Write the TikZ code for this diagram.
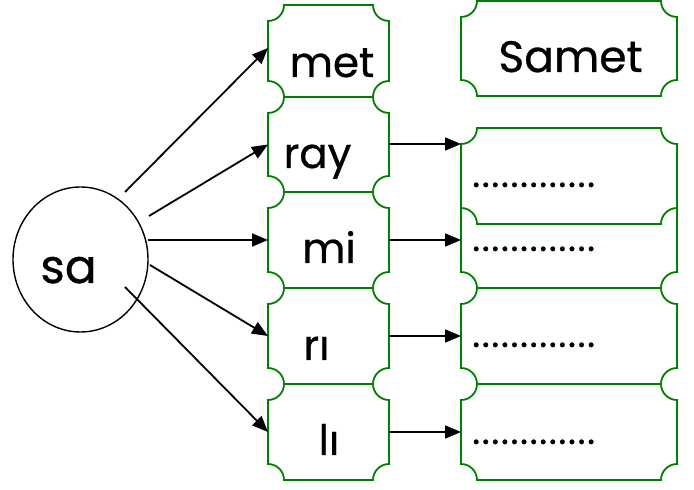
\documentclass[tikz,border=0pt]{standalone}
\usepackage{fontspec}
\setmainfont{Poppins}[FakeBold=0.6]
\usetikzlibrary{arrows.meta,shapes.geometric,backgrounds}
\definecolor{tgreen}{RGB}{0,128,0}
\newlength\tkr
\setlength\tkr{16pt}
\newcommand\ticketframe[1]{%
  \draw[frame] ([xshift=\tkr]#1.north west) -- ([xshift=-\tkr]#1.north east)
    arc[start angle=180,end angle=270,radius=\tkr]
    -- ([yshift=\tkr]#1.south east)
    arc[start angle=90,end angle=180,radius=\tkr]
    -- ([xshift=\tkr]#1.south west)
    arc[start angle=0,end angle=90,radius=\tkr]
    -- ([yshift=-\tkr]#1.north west)
    arc[start angle=270,end angle=360,radius=\tkr] -- cycle;}
\begin{document}
\begin{tikzpicture}[x=1pt,y=1pt,
  boxnode/.style={rectangle,draw=none,inner sep=0pt,outer sep=0pt},
  leftbox/.style={boxnode,minimum width=121pt},
  rightbox/.style={boxnode,minimum width=216pt},
  frame/.style={draw=tgreen,line width=1.8pt,fill=white,line join=miter},
  word/.style={anchor=base,inner sep=0pt,font=\fontsize{42}{50}\selectfont},
  bigword/.style={anchor=base,inner sep=0pt,font=\fontsize{44}{52}\selectfont},
  dotline/.style={anchor=base west,inner sep=0pt,font=\fontsize{38}{40}\selectfont\addfontfeature{LetterSpace=4.2}},
  arr/.style={line width=1.8pt,-{Triangle[length=16pt,width=13pt]}}]
\useasboundingbox (0,0) rectangle (694,490);

% left column boxes
\node[leftbox,minimum height=92pt] (met) at (328.5,439) {};
\node[leftbox,minimum height=95pt] (ray) at (328.5,345.5) {};
\node[leftbox,minimum height=96pt] (mi) at (328.5,250) {};
\node[leftbox,minimum height=96pt] (ri) at (328.5,154) {};
\node[leftbox,minimum height=96pt] (li) at (328.5,58) {};

% right column boxes
\node[rightbox,minimum height=95pt] (samet) at (569,441.5) {};
\node[rightbox,minimum height=96pt] (r1) at (569,314) {};
\node[rightbox,minimum height=96pt] (r2) at (569,250) {};
\node[rightbox,minimum height=96pt] (r3) at (569,154) {};
\node[rightbox,minimum height=96pt] (r4) at (569,58) {};

\begin{pgfonlayer}{background}
  \ticketframe{met}
  \ticketframe{ray}
  \ticketframe{mi}
  \ticketframe{ri}
  \ticketframe{li}
  \ticketframe{samet}
  \ticketframe{r2}
  \ticketframe{r1}
  \ticketframe{r3}
  \ticketframe{r4}
\end{pgfonlayer}

% circle
\node[ellipse,draw,line width=1.4pt,minimum width=135pt,minimum height=145pt,inner sep=0pt] (sa) at (80.5,230.5) {};
\node[word,font=\fontsize{47}{52}\selectfont] (tsa) at (68.5,207) {sa};

% words
\node[word] (tmet) at (332,413) {met};
\node[word] (tray) at (317.5,322) {ray};
\node[word] (tmi) at (329,227) {mi};
\node[word] (tri) at (316.5,130) {rı};
\node[word] (tli) at (329,35) {lı};
\node[bigword] (tsamet) at (570.5,418) {Samet};

% dotted answer lines
\node[dotline] (d1) at (472,303) {.............};
\node[dotline] (d2) at (472,239) {.............};
\node[dotline] (d3) at (472,143) {.............};
\node[dotline] (d4) at (472,46) {.............};

% arrow start points
\coordinate (s1) at (125,298);
\coordinate (s2) at (149,274);
\coordinate (s3) at (148,250);
\coordinate (s4) at (150,225);
\coordinate (s5) at (125,203);

\draw[arr] (s1) -- ([yshift=3pt]met.west);
\draw[arr] (s2) -- (ray.west);
\draw[arr] (s3) -- (mi.west);
\draw[arr] (s4) -- (ri.west);
\draw[arr] (s5) -- (li.west);

\draw[arr] ([yshift=0.5pt]ray.east) -- ([yshift=0.5pt]ray.east -| r1.west);
\draw[arr] (mi.east) -- (r2.west);
\draw[arr] (ri.east) -- (r3.west);
\draw[arr] (li.east) -- (r4.west);
\end{tikzpicture}
\end{document}
